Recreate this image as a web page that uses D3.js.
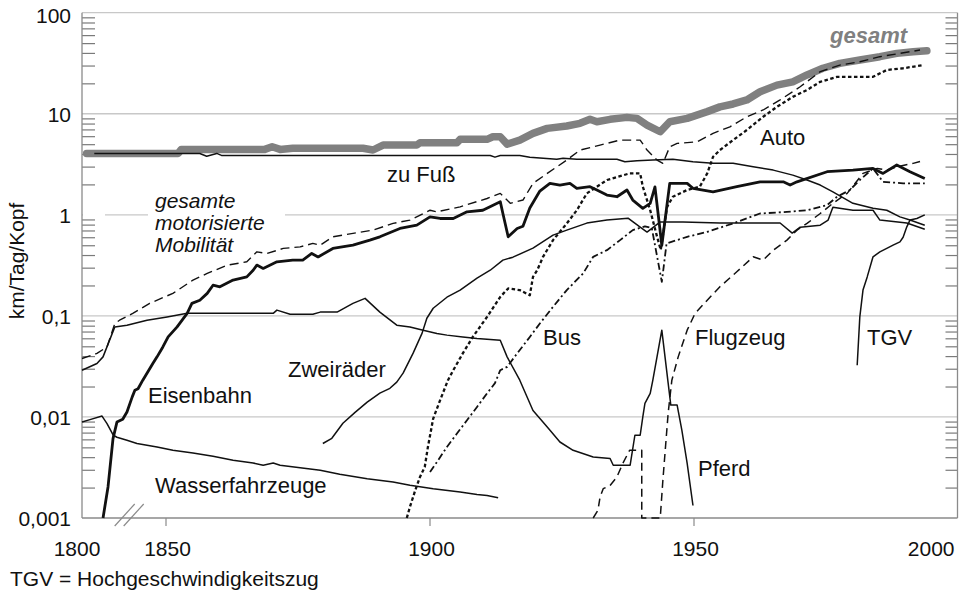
<!DOCTYPE html>
<html>
<head>
<meta charset="utf-8">
<script src="https://cdn.jsdelivr.net/npm/d3@7/dist/d3.min.js"></script>
<style>
  body { margin: 0; background: #fff; }
  svg { display: block; font-family: "Liberation Sans", Arial, sans-serif; }
</style>
</head>
<body>
<svg id="chart" width="961" height="594"></svg>
<script>
// Axis ticks
const yMajorTicks = [0.001, 0.01, 0.1, 1, 10, 100];
const yMajorLabels = ["0,001", "0,01", "0,1", "1", "10", "100"];
const xTickYears = [1850, 1900, 1950];
const xLabelYears = [1800, 1850, 1900, 1950, 2000];

// Series: [Jahr, km/Tag/Kopf]
const gesamt = [
  [1806, 4.05], [1852.4, 4.05], [1853, 4.44], [1868.8, 4.44], [1870.2, 4.71], [1871.7, 4.44],
  [1874.1, 4.55], [1887.4, 4.55], [1889.3, 4.38], [1891.2, 4.9], [1897.6, 4.9], [1898.2, 5.16],
  [1905.2, 5.16], [1905.8, 5.58], [1910.9, 5.58], [1912, 5.92], [1913.4, 5.92], [1914.7, 5.01],
  [1917.1, 5.49], [1919.6, 6.4], [1922.3, 7.17], [1926, 7.56], [1928.5, 8.04], [1930.4, 8.81],
  [1931.7, 8.33], [1934.2, 8.81], [1937.4, 9.21], [1939.3, 9.0], [1941.2, 7.73], [1943.7, 6.64],
  [1945.5, 8.33], [1948.8, 9.0], [1952.6, 10.5], [1955, 11.7], [1957.5, 12.5], [1960.1, 13.7],
  [1962.6, 16.5], [1965.8, 19.2], [1968.8, 20.7], [1971.5, 24.2], [1974.5, 28.2], [1977.7, 31.5],
  [1981.5, 34], [1985.3, 36.7], [1988.5, 39.6], [1991.6, 41.1], [1994.2, 42]
];

const zuFuss = [
  [1816, 4.05], [1856.5, 4.05], [1857.8, 3.8], [1859.7, 4.05], [1860.6, 3.87], [1911.5, 3.87],
  [1912.4, 3.72], [1913.4, 3.87], [1917.1, 3.87], [1919, 3.72], [1924.1, 3.54], [1925.3, 3.63],
  [1927.9, 3.54], [1935.5, 3.54], [1937, 3.35], [1939.3, 3.43], [1942.3, 3.49], [1946.1, 3.54],
  [1949.9, 3.35], [1953.7, 3.23], [1957.5, 3.23], [1961.3, 2.99], [1965.1, 2.77], [1968.8, 2.47],
  [1971.5, 2.21], [1974, 1.97], [1976.4, 1.69], [1980.2, 1.3], [1984, 1.16], [1986.6, 1.11],
  [1989.1, 0.955], [1991, 0.887], [1993.8, 0.79]
];

const motorisiert = [
  [1800, 0.0379], [1819.5, 0.0425], [1832.6, 0.0493], [1840.4, 0.0841], [1841.3, 0.0906],
  [1843.8, 0.106], [1847, 0.133], [1851.4, 0.167], [1855.2, 0.226], [1857.9, 0.263],
  [1861.7, 0.318], [1865.4, 0.343], [1867.3, 0.43], [1869.2, 0.414], [1872.3, 0.465],
  [1875.5, 0.482], [1877.9, 0.521], [1879.3, 0.5], [1881.7, 0.606], [1885.5, 0.655],
  [1889.3, 0.706], [1893.1, 0.822], [1896.3, 0.887], [1900.1, 1.11], [1901.4, 1.07],
  [1905.8, 1.2], [1910.9, 1.45], [1913.4, 1.63], [1915.3, 1.3], [1917.7, 1.4], [1919.6, 2.05],
  [1922.3, 2.57], [1926, 3.48], [1928.5, 4.37], [1932.3, 4.9], [1936.1, 5.49], [1939.9, 5.49],
  [1941.2, 4.37], [1943.1, 3.48], [1944.2, 3.23], [1945.5, 4.71], [1946.9, 5.09], [1950.7, 5.28],
  [1953.7, 6.4], [1956.9, 7.43], [1960.1, 9.34], [1963.2, 10.9], [1966.4, 13.7], [1970.2, 18.5],
  [1974, 26.1], [1977.7, 30.3], [1981.5, 32.7], [1985.3, 36.7], [1989.1, 39.6], [1992.9, 42.7]
];

const eisenbahn = [
  [1827.4, 0.001], [1833.9, 0.00203], [1840.06, 0.0061], [1840.8, 0.0089], [1841.9, 0.0095],
  [1842.7, 0.0112], [1843.7, 0.0158], [1844.2, 0.0184], [1844.8, 0.019], [1845.7, 0.0231],
  [1847.6, 0.0338], [1848.4, 0.0393], [1849.5, 0.0493], [1850.5, 0.0619], [1852.2, 0.0778],
  [1854.1, 0.106], [1855, 0.133], [1856.5, 0.143], [1857.9, 0.167], [1859, 0.201],
  [1860.3, 0.194], [1862.8, 0.226], [1865.4, 0.243], [1866.6, 0.283], [1867.3, 0.318],
  [1868.5, 0.295], [1871.1, 0.343], [1874.1, 0.356], [1876, 0.356], [1877.7, 0.415],
  [1878.9, 0.383], [1881.7, 0.465], [1885.5, 0.501], [1888.7, 0.562], [1890.6, 0.606],
  [1894.4, 0.733], [1897.6, 0.79], [1900.1, 0.955], [1902, 0.92], [1904.5, 0.92],
  [1907.1, 1.07], [1910.1, 1.11], [1913.4, 1.35], [1913.9, 1.03], [1914.9, 0.606],
  [1916.6, 0.733], [1917.7, 0.77], [1919, 1.17], [1920.9, 1.72], [1922.8, 2.05], [1924.7, 1.97],
  [1926.6, 2.05], [1927.9, 1.83], [1930.4, 1.9], [1931.7, 1.76], [1933.6, 1.57], [1935.5, 1.51],
  [1937.4, 1.76], [1938.5, 1.4], [1940.4, 1.16], [1941.8, 1.3], [1942.7, 1.89], [1944, 0.5],
  [1945.5, 2.05], [1948.8, 2.05], [1949.9, 1.83], [1953.7, 1.69], [1958.2, 1.9], [1962.6, 2.12],
  [1967, 2.12], [1968.3, 1.97], [1969.6, 2.12], [1975.3, 2.67], [1980.2, 2.77], [1984, 2.88],
  [1985.9, 2.57], [1988.5, 3.11], [1991, 2.67], [1993.8, 2.29]
];

const zweiraeder = [
  [1879.8, 0.00546], [1881.5, 0.00615], [1883.6, 0.00867], [1885.9, 0.0111], [1888.2, 0.014],
  [1890.6, 0.0172], [1892.5, 0.0192], [1893.8, 0.0221], [1895, 0.0271], [1896.9, 0.0428],
  [1898.6, 0.0675], [1899.5, 0.0948], [1900.7, 0.119], [1903.3, 0.153], [1905.8, 0.18],
  [1909, 0.236], [1911.5, 0.283], [1913.9, 0.356], [1915.8, 0.381], [1919.6, 0.468],
  [1923.4, 0.63], [1926, 0.706], [1929.8, 0.828], [1933.6, 0.887], [1937.6, 0.927],
  [1939.9, 0.755], [1941.2, 0.675], [1943.7, 0.85], [1948, 0.85], [1955, 0.83], [1966.4, 0.83],
  [1968.7, 0.66], [1970.2, 0.755], [1974, 0.79], [1975.5, 0.887], [1976.4, 1.19], [1980.2, 1.11],
  [1984, 1.11], [1985.3, 0.887], [1990.4, 0.83], [1993.8, 0.72]
];

const pferd = [
  [1800, 0.029], [1819.5, 0.0338], [1827.4, 0.0393], [1840.4, 0.0778], [1842.7, 0.0809],
  [1846.5, 0.0906], [1850.3, 0.0977], [1854.1, 0.106], [1870.4, 0.106], [1871.1, 0.114],
  [1873.6, 0.104], [1877.9, 0.104], [1879.3, 0.109], [1882.5, 0.109], [1885.5, 0.133],
  [1887.8, 0.149], [1890.6, 0.109], [1893.8, 0.0809], [1896.3, 0.0778], [1898.8, 0.0722],
  [1901.4, 0.067], [1903.3, 0.0645], [1906.3, 0.0619], [1909, 0.0597], [1913.4, 0.0574],
  [1914.7, 0.0393], [1917.1, 0.0231], [1919.6, 0.0116], [1922.3, 0.00796], [1924.7, 0.00565],
  [1927.2, 0.00468], [1931, 0.00402], [1934.2, 0.00388], [1934.8, 0.00333], [1938, 0.00333],
  [1938.9, 0.00659], [1939.9, 0.00659], [1940.4, 0.01], [1940.8, 0.0136], [1941.8, 0.0171],
  [1942.3, 0.0231], [1944, 0.0722], [1945.2, 0.0216], [1945.7, 0.0131], [1946.9, 0.0131],
  [1947.8, 0.00738], [1948.8, 0.00348], [1949.9, 0.00133]
];

const wasser = [
  [1800, 0.0089], [1810.4, 0.0094], [1826.1, 0.0102], [1832.6, 0.0086], [1840.1, 0.0066],
  [1840.8, 0.0063], [1842.7, 0.00588], [1844.6, 0.00546], [1848.4, 0.00505], [1851.4, 0.00468],
  [1855.2, 0.0044], [1859, 0.00408], [1862.8, 0.00373], [1866.6, 0.0035], [1868.5, 0.00333],
  [1870.4, 0.0035], [1871.7, 0.00333], [1875.5, 0.00315], [1879.3, 0.00297], [1883, 0.00271],
  [1888.2, 0.00245], [1893.1, 0.00227], [1896.3, 0.00211], [1900.7, 0.00195], [1905.8, 0.00181],
  [1909, 0.00171], [1910.9, 0.00167], [1913, 0.00159]
];

const auto = [
  [1895.7, 0.001], [1896.3, 0.00129], [1897.3, 0.00188], [1898.2, 0.00255], [1899.1, 0.0032],
  [1899.7, 0.00505], [1900.7, 0.00964], [1902, 0.0146], [1903.5, 0.0231], [1904.5, 0.029],
  [1906.3, 0.0425], [1908.2, 0.0619], [1910.9, 0.0977], [1913.4, 0.154], [1914.9, 0.187],
  [1917.1, 0.18], [1919, 0.16], [1919.6, 0.243], [1920.4, 0.283], [1921.5, 0.384],
  [1923.4, 0.562], [1926, 0.822], [1927.9, 1.11], [1929.8, 1.63], [1933.6, 2.21], [1937.9, 2.57],
  [1939.9, 2.57], [1940.4, 1.9], [1941.8, 1.11], [1943.1, 0.606], [1943.8, 0.45], [1945, 1.2],
  [1946.1, 1.51], [1948.8, 1.76], [1951.2, 1.9], [1952.6, 2.57], [1953.7, 3.75], [1955, 4.37],
  [1957.5, 5.49], [1960.1, 6.9], [1963.2, 9.34], [1965.8, 11.7], [1968.8, 14.7], [1971.5, 17.2],
  [1974, 20.7], [1977.2, 23.2], [1984, 23.2], [1986.6, 27.1], [1989.7, 28.2], [1993.5, 30.3]
];

const bus = [
  [1900.1, 0.00285], [1901.4, 0.00358], [1903.3, 0.00505], [1905.2, 0.00685], [1907.1, 0.00927],
  [1909, 0.01256], [1910.9, 0.0171], [1912.4, 0.0216], [1913.4, 0.029], [1914.7, 0.0313],
  [1916.6, 0.0425], [1919, 0.0619], [1920.9, 0.0841], [1923.4, 0.123], [1926, 0.18],
  [1929.1, 0.263], [1931, 0.384], [1933.6, 0.447], [1936.1, 0.562], [1938.5, 0.706],
  [1940.8, 0.77], [1942.1, 0.74], [1944, 0.217], [1944.9, 0.521], [1948.8, 0.606],
  [1952.6, 0.679], [1957.5, 0.822], [1962.6, 1.03], [1967.7, 1.07], [1971.5, 1.11],
  [1975.3, 1.25], [1977.2, 1.51], [1979.6, 1.76], [1981.5, 2.21], [1984, 2.88], [1985.9, 2.12],
  [1989.7, 2.05], [1993.8, 2.05]
];

const flugzeug = [
  [1931, 0.001], [1931.9, 0.00119], [1932.3, 0.00161], [1932.9, 0.00195], [1934.2, 0.0021],
  [1935.5, 0.00255], [1936.6, 0.00346], [1937.9, 0.00468], [1940.2, 0.00468], [1940.2, 0.001],
  [1943.7, 0.001], [1944.2, 0.00236], [1945.2, 0.0109], [1945.9, 0.0231], [1947.1, 0.0393],
  [1948.8, 0.0722], [1950.3, 0.106], [1952.6, 0.143], [1955, 0.194], [1958.2, 0.273],
  [1961.3, 0.384], [1963.2, 0.356], [1965.1, 0.447], [1967.7, 0.562], [1969.6, 0.706],
  [1971.5, 0.822], [1974, 1.03], [1976.4, 1.3], [1979.1, 1.63], [1982.1, 2.57], [1984.8, 2.88],
  [1986.6, 2.77], [1988.5, 2.99], [1991.6, 3.23], [1993.8, 3.48]
];

const tgv = [
  [1981, 0.0325], [1981.5, 0.0977], [1982.1, 0.18], [1982.9, 0.243], [1984, 0.384],
  [1985.3, 0.43], [1986.6, 0.465], [1987.8, 0.501], [1989.1, 0.54], [1989.7, 0.6],
  [1990.4, 0.76], [1991, 0.887], [1992.3, 0.92], [1993.8, 1.0]
];

// ---- layout ----
const svg = d3.select("#chart");
const plotLeft = 82, plotRight = 957.5, plotTop = 12.7, plotBottom = 518;

// compressed segment 1800–1840, linear from 1840 on
const x = d3.scaleLinear()
  .domain([1800, 1840, 2000])
  .range([plotLeft, plotRight - 160 * 5.28, plotRight]);
const y = d3.scaleLog().domain([0.001, 100]).range([plotBottom, plotTop]);

const minorTicks = [];
yMajorTicks.slice(0, -1).forEach(d => {
  for (let k = 2; k <= 9; k++) minorTicks.push(d * k);
});

// gridlines
svg.append("g").selectAll("line").data(yMajorTicks.slice(1)).join("line")
  .attr("x1", plotLeft).attr("x2", plotRight)
  .attr("y1", d => y(d)).attr("y2", d => y(d))
  .attr("stroke", "#c8c8c8").attr("stroke-width", 1.3);

// gap in the 1-line for the motorised-total caption
svg.append("rect").attr("x", 148).attr("width", 137)
  .attr("y", y(1) - 4).attr("height", 8).attr("fill", "#fff");
svg.append("rect").attr("x", plotLeft + 1).attr("width", 22)
  .attr("y", y(1) - 4).attr("height", 8).attr("fill", "#fff");

// inner minor ticks, left and right
svg.append("g").attr("transform", `translate(${plotLeft},0)`)
  .call(d3.axisRight(y).tickValues(minorTicks).tickSize(13).tickFormat(""))
  .call(g => g.select(".domain").remove())
  .call(g => g.selectAll("line").attr("stroke", "#7a7a7a").attr("stroke-width", 1.2));
svg.append("g").attr("transform", `translate(${plotRight},0)`)
  .call(d3.axisLeft(y).tickValues(minorTicks).tickSize(12).tickFormat(""))
  .call(g => g.select(".domain").remove())
  .call(g => g.selectAll("line").attr("stroke", "#7a7a7a").attr("stroke-width", 1.2));

// frame lines
svg.append("line").attr("x1", plotLeft).attr("x2", plotLeft)
  .attr("y1", plotTop).attr("y2", plotBottom).attr("stroke", "#8a8a8a").attr("stroke-width", 1.3);
svg.append("line").attr("x1", plotRight).attr("x2", plotRight)
  .attr("y1", plotTop).attr("y2", plotBottom).attr("stroke", "#8a8a8a").attr("stroke-width", 1.3);
svg.append("line").attr("x1", plotLeft).attr("x2", plotRight)
  .attr("y1", plotBottom).attr("y2", plotBottom).attr("stroke", "#8a8a8a").attr("stroke-width", 1.3);

// y labels
svg.append("g").selectAll("text").data(yMajorTicks).join("text")
  .attr("x", 71)
  .attr("y", (d, i) => y(d) + (i === yMajorTicks.length - 1 ? 10 : 8))
  .attr("text-anchor", "end").attr("font-size", 21).attr("fill", "#111")
  .text((d, i) => yMajorLabels[i]);

// x ticks and labels
svg.append("g").attr("transform", `translate(0,${plotBottom})`)
  .call(d3.axisBottom(x).tickValues(xTickYears).tickSize(8).tickFormat(""))
  .call(g => g.select(".domain").remove())
  .call(g => g.selectAll("line").attr("stroke", "#8a8a8a").attr("stroke-width", 1.2));
svg.append("g").selectAll("text").data(xLabelYears).join("text")
  .attr("x", d => d === 1800 ? x(d) - 5 : d === 2000 ? x(d) - 3 : x(d) + 2)
  .attr("y", 556)
  .attr("text-anchor", d => d === 2000 ? "end" : "middle")
  .attr("font-size", 21).attr("fill", "#111")
  .text(d => d);

// axis break marks
[x(1840) + 12, x(1840) + 21].forEach(cx => {
  svg.append("line").attr("x1", cx - 10).attr("y1", plotBottom + 8)
    .attr("x2", cx + 10).attr("y2", plotBottom - 14)
    .attr("stroke", "#8a8a8a").attr("stroke-width", 1.2);
});

// y-axis title
svg.append("text")
  .attr("transform", `translate(24,261) rotate(-90)`)
  .attr("text-anchor", "middle").attr("font-size", 21).attr("fill", "#111")
  .text("km/Tag/Kopf");

// footnote
svg.append("text").attr("x", 10).attr("y", 586)
  .attr("font-size", 21).attr("fill", "#111")
  .text("TGV = Hochgeschwindigkeitszug");

// ---- series ----
const line = d3.line().x(d => x(d[0])).y(d => y(d[1]));
const series = [
  { data: gesamt, stroke: "#808080", width: 7.5, dash: null },
  { data: zuFuss, stroke: "#111", width: 1.5, dash: null },
  { data: wasser, stroke: "#111", width: 1.5, dash: null },
  { data: pferd, stroke: "#111", width: 1.5, dash: null },
  { data: zweiraeder, stroke: "#111", width: 1.5, dash: null },
  { data: tgv, stroke: "#111", width: 1.5, dash: null },
  { data: motorisiert, stroke: "#111", width: 1.4, dash: "9,5" },
  { data: flugzeug, stroke: "#111", width: 1.5, dash: "8,5" },
  { data: bus, stroke: "#111", width: 1.8, dash: "7,3,2,3" },
  { data: auto, stroke: "#111", width: 2.3, dash: "3.5,2.5" },
  { data: eisenbahn, stroke: "#111", width: 2.8, dash: null }
];
svg.append("g").selectAll("path").data(series).join("path")
  .attr("d", d => line(d.data))
  .attr("fill", "none")
  .attr("stroke", d => d.stroke)
  .attr("stroke-width", d => d.width)
  .attr("stroke-dasharray", d => d.dash)
  .attr("stroke-linejoin", "round")
  .attr("stroke-linecap", d => d.width > 5 ? "round" : "butt");

// ---- series captions ----
const captions = [
  { text: "gesamt", x: 830, y: 43, size: 22, style: "italic", weight: "bold", fill: "#808080" },
  { text: "Auto", x: 760, y: 145 },
  { text: "zu Fuß", x: 387, y: 182 },
  { text: "Eisenbahn", x: 148, y: 403 },
  { text: "Wasserfahrzeuge", x: 155, y: 493 },
  { text: "Zweiräder", x: 288, y: 377 },
  { text: "Bus", x: 543, y: 345 },
  { text: "Flugzeug", x: 695, y: 345 },
  { text: "TGV", x: 867, y: 345 },
  { text: "Pferd", x: 698, y: 476 },
  { text: "gesamte", x: 155, y: 208, size: 21, style: "italic" },
  { text: "motorisierte", x: 155, y: 230, size: 21, style: "italic" },
  { text: "Mobilität", x: 155, y: 252, size: 21, style: "italic" }
];
svg.append("g").selectAll("text").data(captions).join("text")
  .attr("x", d => d.x).attr("y", d => d.y)
  .attr("font-size", d => d.size || 22)
  .attr("font-style", d => d.style || "normal")
  .attr("font-weight", d => d.weight || "normal")
  .attr("fill", d => d.fill || "#111")
  .text(d => d.text);
</script>
</body>
</html>
